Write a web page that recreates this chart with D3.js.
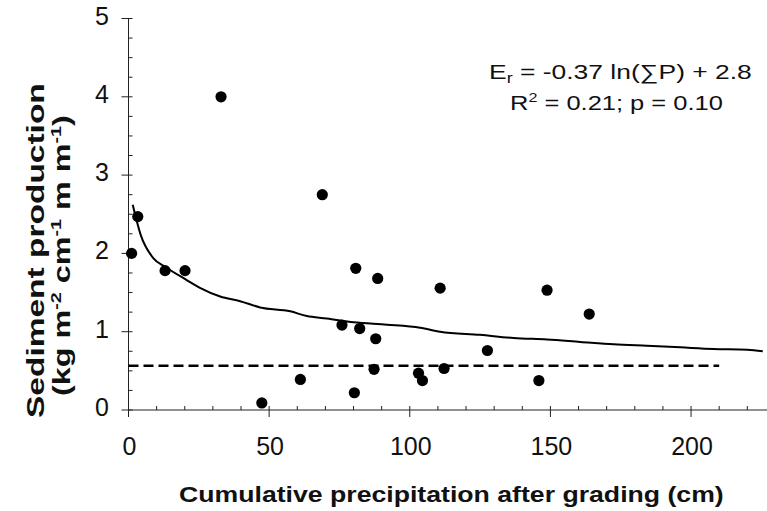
<!DOCTYPE html>
<html><head><meta charset="utf-8">
<script src="https://cdn.jsdelivr.net/npm/d3@7"></script>
<style>
html,body{margin:0;padding:0;background:#fff;}
svg{display:block;font-family:"Liberation Sans",Arial,sans-serif;}
</style></head>
<body>
<svg id="chart" width="767" height="511"></svg>
<script>
// ---- data ----
const precip   = [1.1, 3.3, 13, 20.1, 32.9, 47.4, 61.1, 68.9, 75.9, 80.3, 80.8, 82.2, 87.3, 87.9, 88.6, 103.1, 104.5, 110.8, 112.2, 127.6, 145.9, 148.8, 163.8];
const sediment = [2.0, 2.47, 1.78, 1.78, 4.0, 0.09, 0.39, 2.75, 1.085, 0.22, 1.81, 1.04, 0.52, 0.91, 1.68, 0.47, 0.376, 1.556, 0.53, 0.76, 0.376, 1.53, 1.225];
// fitted curve as traced on the figure
const fitX = [1.5, 4.3, 8.8, 13, 20.7, 25.4, 32.6, 39.7, 46.8, 57.5, 63.4, 70.5, 80, 91.9, 103.7, 110.8, 125, 136.9, 148.8, 160.6, 172.5, 184.3, 196.2, 208, 220, 225.5];
const fitY = [2.62, 2.24, 1.94, 1.83, 1.66, 1.56, 1.45, 1.39, 1.31, 1.26, 1.20, 1.17, 1.12, 1.09, 1.05, 1.00, 0.96, 0.92, 0.90, 0.87, 0.84, 0.82, 0.80, 0.78, 0.77, 0.75];
// dashed reference line
const refLevel = [0.565];
const refRange = [0, 210];
const xTicks = [0, 50, 100, 150, 200];
const yTicks = [0, 1, 2, 3, 4, 5];
const xLabel = "Cumulative precipitation after grading (cm)";
const yLabel1 = "Sediment production";

const svg = d3.select("#chart");
const x = d3.scaleLinear().domain([0, 227]).range([128.5, 767]);
const y = d3.scaleLinear().domain([0, 5]).range([410, 18.5]);

// axes lines
const ax = svg.append("g").attr("stroke", "#222").attr("stroke-width", 1).attr("fill", "none");
ax.append("line").attr("x1", x(0)).attr("x2", 767).attr("y1", y(0)).attr("y2", y(0));
ax.append("line").attr("x1", x(0)).attr("x2", x(0)).attr("y1", y(0)).attr("y2", y(5));
// x ticks
d3.range(0, 227, 10).forEach(v => {
  const major = v % 50 === 0;
  ax.append("line").attr("x1", x(v)).attr("x2", x(v))
    .attr("y1", y(0) + (major ? 7 : 0)).attr("y2", y(0) - 4);
});
// y ticks
d3.range(0, 5.001, 0.25).forEach(v => {
  const major = Math.abs(v - Math.round(v)) < 1e-6;
  ax.append("line").attr("y1", y(v)).attr("y2", y(v))
    .attr("x1", x(0) - (major ? 7 : 0)).attr("x2", x(0) + 4);
});

// tick labels
svg.append("g").selectAll("text").data(xTicks).join("text")
  .attr("x", d => x(d) + 1).attr("y", 455).attr("text-anchor", "middle")
  .attr("font-size", 25).attr("fill", "#111").text(d => d);
svg.append("g").selectAll("text").data(yTicks).join("text")
  .attr("x", 109).attr("y", d => y(d) + 6).attr("text-anchor", "end")
  .attr("font-size", 25).attr("fill", "#111").text(d => d);

// dashed line
svg.append("line")
  .attr("x1", x(refRange[0])).attr("x2", x(refRange[1]))
  .attr("y1", y(refLevel[0])).attr("y2", y(refLevel[0]))
  .attr("stroke", "#000").attr("stroke-width", 2.6).attr("stroke-dasharray", "10,5");

// fitted curve
const fitPts = fitX.map((v, i) => [v, fitY[i]]);
svg.append("path").datum(fitPts)
  .attr("d", d3.line().x(d => x(d[0])).y(d => y(d[1])).curve(d3.curveMonotoneX))
  .attr("fill", "none").attr("stroke", "#000").attr("stroke-width", 2);

// points
svg.append("g").selectAll("circle").data(precip.map((v, i) => [v, sediment[i]])).join("circle")
  .attr("cx", d => x(d[0])).attr("cy", d => y(d[1])).attr("r", 5.6).attr("fill", "#000");

// stretched horizontal text
function stretchedText(parent, build, left, baseline, target, size, weight) {
  const g = parent.append("g");
  const t = g.append("text").attr("font-size", size).attr("font-weight", weight || "normal").attr("fill", "#111");
  build(t);
  const w = t.node().getBBox().width;
  g.attr("transform", `translate(${left},${baseline}) scale(${target / w},1)`);
  return g;
}
stretchedText(svg, t => {
  t.append("tspan").text("E");
  t.append("tspan").attr("font-size", 14).attr("dy", 4).text("r");
  t.append("tspan").attr("dy", -4).text(" = -0.37 ln(\u2211P) + 2.8");
}, 489, 79, 263, 20.5);
stretchedText(svg, t => {
  t.append("tspan").text("R");
  t.append("tspan").attr("font-size", 13).attr("dy", -8).text("2");
  t.append("tspan").attr("dy", 8).text(" = 0.21; p = 0.10");
}, 510, 110, 213, 20.5);

// x axis title
stretchedText(svg, t => t.text(xLabel), 179, 502, 545, 21.5, "bold");

// y axis titles (rotated)
function rotatedText(build, baselineX, top, bottom, size) {
  const g = svg.append("g");
  const t = g.append("text").attr("font-size", size).attr("font-weight", "bold").attr("fill", "#111");
  build(t);
  const w = t.node().getBBox().width;
  const target = bottom - top;
  g.attr("transform", `translate(${baselineX},${bottom}) rotate(-90) scale(${target / w},1)`);
}
rotatedText(t => t.text(yLabel1), 44, 83, 418, 23);
rotatedText(t => {
  t.append("tspan").text("(kg m");
  t.append("tspan").attr("font-size", 14).attr("dy", -9).text("-2");
  t.append("tspan").attr("dy", 9).text(" cm");
  t.append("tspan").attr("font-size", 14).attr("dy", -9).text("-1");
  t.append("tspan").attr("dy", 9).text(" m m");
  t.append("tspan").attr("font-size", 14).attr("dy", -9).text("-1");
  t.append("tspan").attr("dy", 9).text(")");
}, 70, 115, 396, 23);
</script>
</body></html>
